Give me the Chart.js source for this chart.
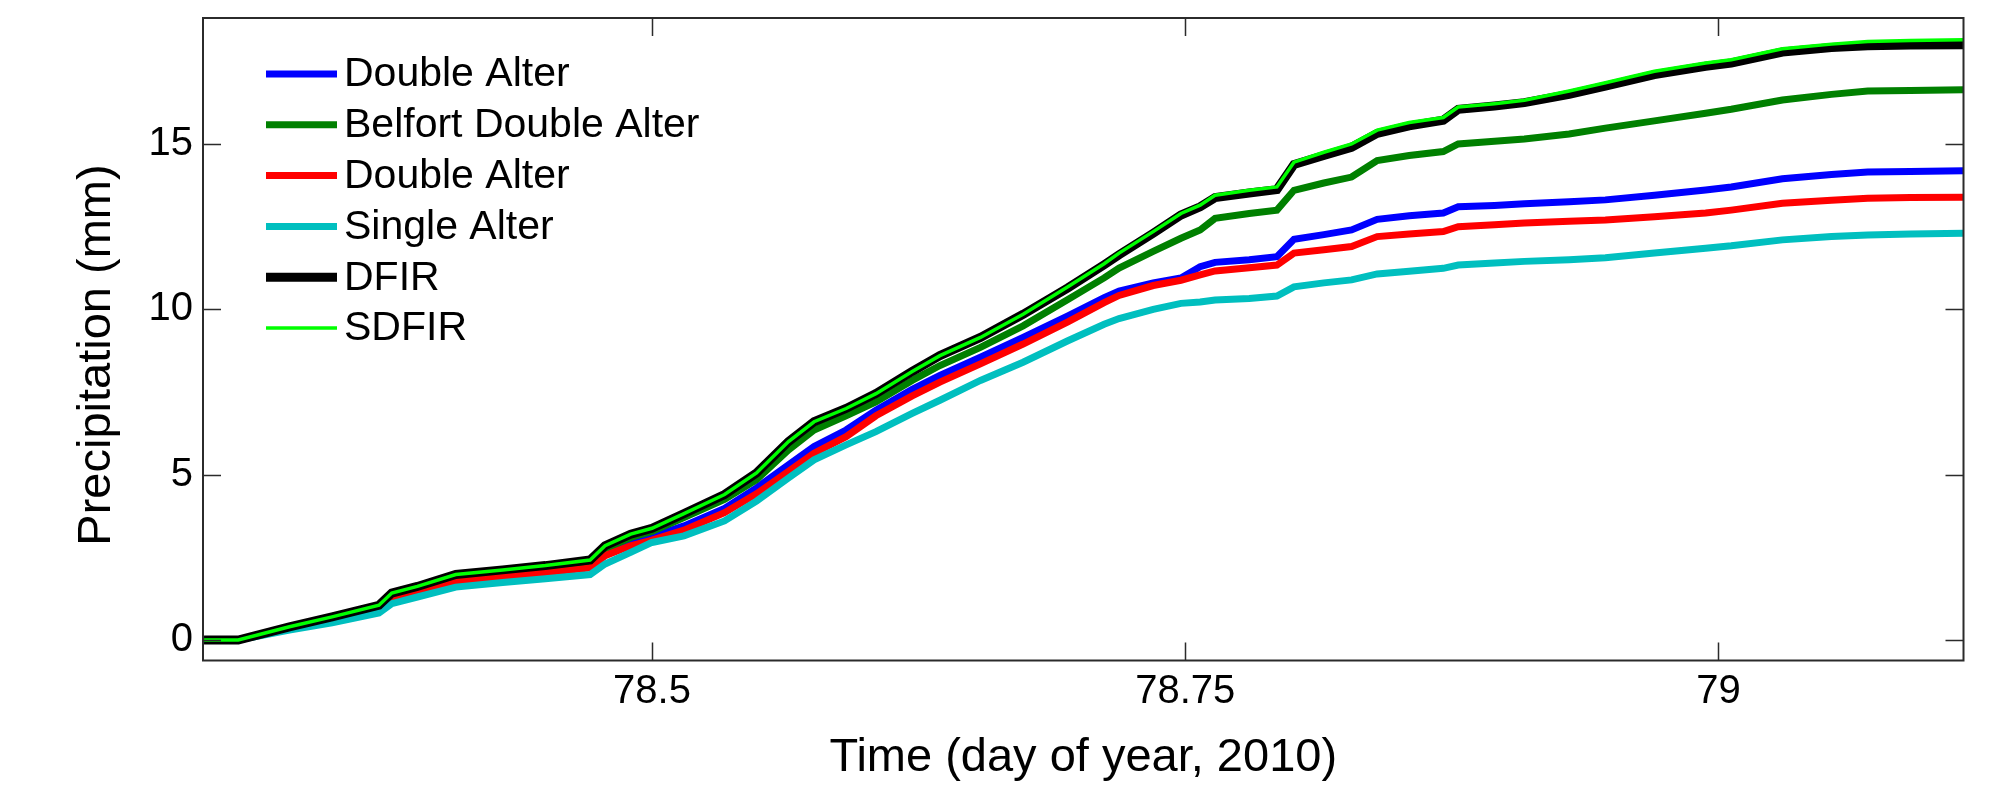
<!DOCTYPE html>
<html>
<head>
<meta charset="utf-8">
<script src="https://cdn.jsdelivr.net/npm/chart.js@4.4.1/dist/chart.umd.min.js"></script>
<style>
  html, body { margin: 0; padding: 0; background: #ffffff; }
  #wrap { width: 1993px; height: 785px; }
</style>
</head>
<body>
<div id="wrap"><canvas id="c" width="1993" height="785"></canvas></div>
<script>
// ---------------- data ----------------
const time = [78.29, 78.306, 78.33, 78.35, 78.372, 78.378, 78.39, 78.408, 78.43, 78.45,
  78.471, 78.478, 78.49, 78.50, 78.515, 78.534, 78.549, 78.564, 78.576, 78.591,
  78.605, 78.622, 78.635, 78.654, 78.674, 78.695, 78.712, 78.719, 78.735, 78.748,
  78.757, 78.764, 78.78, 78.793, 78.801, 78.815, 78.828, 78.84, 78.855, 78.871,
  78.878, 78.895, 78.909, 78.93, 78.947, 78.97, 78.994, 79.006, 79.03, 79.053,
  79.07, 79.09, 79.115];

const doubleAlterBlue = [0, 0, 0.37, 0.64, 0.97, 1.32, 1.52, 1.85, 1.98, 2.10,
  2.25, 2.62, 2.95, 3.12, 3.45, 3.98, 4.60, 5.30, 5.85, 6.35,
  6.95, 7.58, 8.00, 8.55, 9.15, 9.80, 10.35, 10.55, 10.80, 10.95,
  11.29, 11.42, 11.50, 11.59, 12.12, 12.26, 12.40, 12.72, 12.83, 12.91,
  13.10, 13.14, 13.19, 13.25, 13.31, 13.45, 13.61, 13.70, 13.95, 14.08,
  14.15, 14.17, 14.19];

const belfortDoubleAlter = [0, 0, 0.38, 0.67, 1.00, 1.37, 1.57, 1.92, 2.06, 2.18,
  2.34, 2.75, 3.10, 3.28, 3.70, 4.25, 4.85, 5.75, 6.35, 6.78,
  7.20, 7.85, 8.30, 8.85, 9.50, 10.30, 10.95, 11.25, 11.75, 12.15,
  12.40, 12.75, 12.90, 13.00, 13.60, 13.82, 14.00, 14.50, 14.65, 14.77,
  15.00, 15.08, 15.15, 15.30, 15.48, 15.70, 15.93, 16.05, 16.33, 16.50,
  16.60, 16.62, 16.64];

const doubleAlterRed = [0, 0, 0.35, 0.62, 0.94, 1.27, 1.47, 1.78, 1.92, 2.04,
  2.18, 2.55, 2.85, 3.02, 3.32, 3.85, 4.42, 5.10, 5.65, 6.15,
  6.78, 7.38, 7.80, 8.35, 8.95, 9.62, 10.20, 10.42, 10.72, 10.88,
  11.04, 11.16, 11.26, 11.34, 11.70, 11.80, 11.90, 12.20, 12.28, 12.35,
  12.50, 12.56, 12.61, 12.66, 12.70, 12.80, 12.91, 13.00, 13.21, 13.30,
  13.36, 13.38, 13.39];

const singleAlter = [0, 0, 0.30, 0.52, 0.82, 1.10, 1.30, 1.60, 1.74, 1.85,
  1.98, 2.30, 2.65, 2.95, 3.15, 3.60, 4.20, 4.90, 5.45, 5.90,
  6.30, 6.85, 7.25, 7.85, 8.40, 9.05, 9.55, 9.72, 10.00, 10.18,
  10.22, 10.28, 10.33, 10.40, 10.68, 10.80, 10.89, 11.07, 11.15, 11.24,
  11.34, 11.40, 11.45, 11.50, 11.56, 11.70, 11.85, 11.92, 12.10, 12.20,
  12.25, 12.28, 12.30];

const dfir = [0, 0, 0.40, 0.70, 1.05, 1.42, 1.62, 1.98, 2.12, 2.25,
  2.42, 2.85, 3.20, 3.38, 3.82, 4.40, 5.05, 6.00, 6.60, 7.00,
  7.45, 8.12, 8.60, 9.15, 9.85, 10.65, 11.35, 11.65, 12.30, 12.85,
  13.10, 13.38, 13.52, 13.62, 14.38, 14.65, 14.90, 15.32, 15.55, 15.72,
  16.05, 16.15, 16.25, 16.50, 16.75, 17.10, 17.35, 17.45, 17.78, 17.92,
  17.97, 17.99, 18.00];

const sdfir = [0, 0, 0.40, 0.70, 1.05, 1.42, 1.62, 1.98, 2.12, 2.25,
  2.42, 2.85, 3.20, 3.38, 3.82, 4.40, 5.05, 6.00, 6.60, 7.00,
  7.45, 8.12, 8.60, 9.15, 9.85, 10.68, 11.38, 11.70, 12.35, 12.90,
  13.15, 13.45, 13.60, 13.70, 14.45, 14.75, 15.00, 15.42, 15.65, 15.80,
  16.12, 16.22, 16.32, 16.60, 16.85, 17.20, 17.45, 17.55, 17.88, 18.02,
  18.10, 18.13, 18.15];

const seriesLabels = ['Double Alter', 'Belfort Double Alter', 'Double Alter', 'Single Alter', 'DFIR', 'SDFIR'];
const xTicks = [78.5, 78.75, 79];
const xTickLabels = ['78.5', '78.75', '79'];
const yTicks = [0, 5, 10, 15];
const yTickLabels = ['0', '5', '10', '15'];
const xRange = [78.2895, 79.1149];
const yRange = [-0.62, 18.81];
const xTitle = 'Time (day of year, 2010)';
const yTitle = 'Precipitation (mm)';

// ---------------- styling ----------------
const FONT = '"Liberation Sans", Arial, Helvetica, sans-serif';
const seriesStyle = [
  { color: '#0000FF', width: 7 },
  { color: '#008000', width: 7 },
  { color: '#FF0000', width: 7 },
  { color: '#00BFBF', width: 7 },
  { color: '#000000', width: 9 },
  { color: '#00FF00', width: 3.5 }
];
const seriesValues = [doubleAlterBlue, belfortDoubleAlter, doubleAlterRed, singleAlter, dfir, sdfir];

const datasets = seriesValues.map((vals, i) => ({
  label: seriesLabels[i],
  data: time.map((t, k) => ({ x: t, y: vals[k] })),
  borderColor: seriesStyle[i].color,
  backgroundColor: seriesStyle[i].color,
  borderWidth: seriesStyle[i].width,
  pointRadius: 0,
  tension: 0,
  fill: false,
  order: seriesValues.length - i   // later series drawn on top (as in MATLAB)
}));

// frame with inward ticks on all four sides, plus the rotated y title
const framePlugin = {
  id: 'frame',
  afterDatasetsDraw(chart) {
    const { ctx, chartArea: { left, right, top, bottom }, scales: { x, y } } = chart;
    ctx.save();
    ctx.strokeStyle = '#2b2b2b';
    ctx.lineWidth = 1.5;
    const TL = 18;
    ctx.beginPath();
    xTicks.forEach(v => {
      const px = Math.round(x.getPixelForValue(v)) + 0.5;
      ctx.moveTo(px, bottom); ctx.lineTo(px, bottom - TL);
      ctx.moveTo(px, top); ctx.lineTo(px, top + TL);
    });
    yTicks.forEach(v => {
      const py = Math.round(y.getPixelForValue(v)) + 0.5;
      ctx.moveTo(left, py); ctx.lineTo(left + TL, py);
      ctx.moveTo(right, py); ctx.lineTo(right - TL, py);
    });
    ctx.stroke();
    ctx.lineWidth = 2;
    ctx.strokeRect(left, top, right - left, bottom - top);

    // y axis title
    ctx.fillStyle = '#000000';
    ctx.font = '47px ' + FONT;
    ctx.textAlign = 'center';
    ctx.textBaseline = 'middle';
    ctx.translate(97, 355);
    ctx.rotate(-Math.PI / 2);
    ctx.fillText(yTitle, 0, 0);
    ctx.restore();
  }
};

// MATLAB-style legend inside the axes (no box)
const legendPlugin = {
  id: 'insideLegend',
  afterDraw(chart) {
    const { ctx } = chart;
    ctx.save();
    ctx.font = '41px ' + FONT;
    ctx.textBaseline = 'middle';
    ctx.textAlign = 'left';
    chart.data.datasets.forEach((ds, i) => {
      const yy = 74 + i * 50.8;
      ctx.strokeStyle = ds.borderColor;
      ctx.lineWidth = ds.borderWidth;
      ctx.beginPath();
      ctx.moveTo(266, yy); ctx.lineTo(337, yy);
      ctx.stroke();
      ctx.fillStyle = '#000000';
      ctx.fillText(ds.label, 344, yy + 1);
    });
    ctx.restore();
  }
};

new Chart(document.getElementById('c'), {
  type: 'line',
  data: { datasets },
  options: {
    responsive: false,
    animation: false,
    devicePixelRatio: 1,
    layout: { padding: { top: 18, right: 29.5, left: 0, bottom: 0 } },
    plugins: { legend: { display: false }, tooltip: { enabled: false } },
    scales: {
      x: {
        type: 'linear',
        min: xRange[0], max: xRange[1],
        afterBuildTicks: s => { s.ticks = xTicks.map(v => ({ value: v })); },
        afterFit: s => { s.height = 124.5; s.paddingLeft = 0; s.paddingRight = 0; },
        grid: { display: false, drawTicks: false },
        border: { display: false },
        ticks: {
          autoSkip: false, maxRotation: 0, minRotation: 0,
          padding: 7, color: '#000000',
          font: { family: FONT, size: 40 },
          callback: (v) => { const k = xTicks.indexOf(v); return k >= 0 ? xTickLabels[k] : ''; }
        },
        title: {
          display: true, text: xTitle, color: '#000000',
          font: { family: FONT, size: 47, lineHeight: 1.0 }, padding: { top: 0, bottom: 3 }
        }
      },
      y: {
        type: 'linear',
        min: yRange[0], max: yRange[1],
        afterBuildTicks: s => { s.ticks = yTicks.map(v => ({ value: v })); },
        afterFit: s => { s.width = 203; s.paddingTop = 0; s.paddingBottom = 0; },
        grid: { display: false, drawTicks: false },
        border: { display: false },
        ticks: {
          autoSkip: false, padding: 10, color: '#000000',
          font: { family: FONT, size: 40 },
          callback: (v) => { const k = yTicks.indexOf(v); return k >= 0 ? yTickLabels[k] : ''; }
        },
        title: { display: false }
      }
    }
  },
  plugins: [framePlugin, legendPlugin]
});
</script>
</body>
</html>
